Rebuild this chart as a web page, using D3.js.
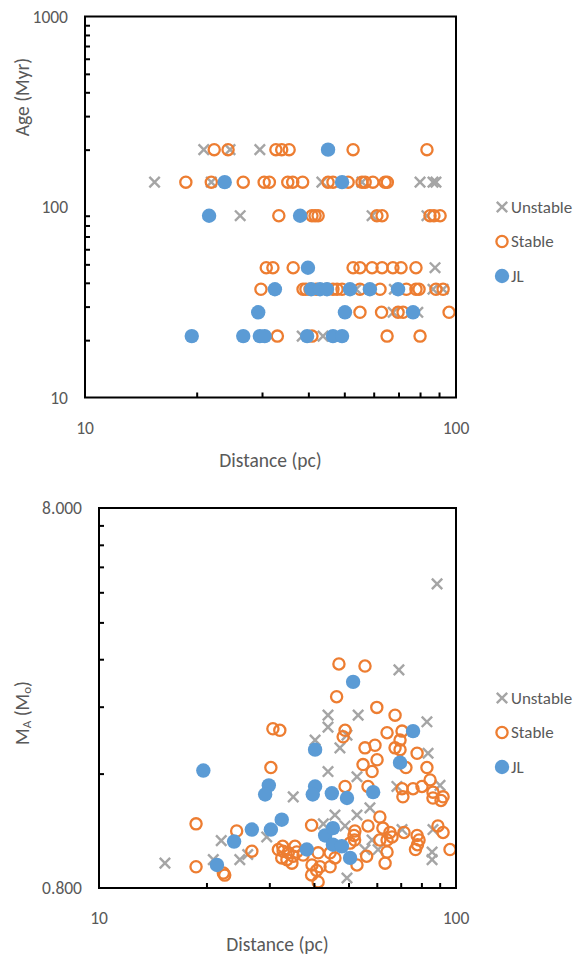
<!DOCTYPE html>
<html><head><meta charset="utf-8">
<script src="https://cdn.jsdelivr.net/npm/d3@7"></script>
<style>
html,body{margin:0;padding:0;background:#fff;}
svg{display:block;font-family:Carlito,Calibri,"Open Sans",sans-serif;}
</style></head><body>
<svg id="chart" width="574" height="958"></svg>
<script>
// ---- Panel 1: age vs distance, [distance pc, age Myr] ----
const ageUnstable = [
  [20.9,200],[24.6,200],[29.6,200],
  [15.4,135],[21.9,135],[43.5,135],[55.8,135],[80.0,135],[86.7,135],[88.3,135],
  [26.2,90],[59.4,90],[83.5,90],
  [87.8,48],
  [42.0,37],[53.8,37],[68.2,37],[86.7,37],[92.3,37],
  [67.7,28],[78.9,28],
  [38.5,21],[43.8,21]
];
const ageStable = [
  [22.3,200],[24.3,200],[32.7,200],[33.9,200],[35.5,200],[52.8,200],[83.5,200],
  [18.7,135],[21.9,135],[26.7,135],[30.4,135],[31.4,135],[35.2,135],[36.3,135],[38.6,135],
  [45.2,135],[46.6,135],[51.2,135],[55.8,135],[56.9,135],[59.7,135],[64.4,135],[65.3,135],
  [33.3,90],[40.9,90],[41.7,90],[42.5,90],[61.2,90],[63.2,90],[85.1,90],[87.2,90],[90.6,90],
  [30.8,48],[32.1,48],[36.4,48],[52.8,48],[55.1,48],[59.4,48],[63.2,48],[67.6,48],[71.1,48],[78.0,48],
  [29.8,37],[38.7,37],[39.4,37],[40.4,37],[42.0,37],[44.9,37],[46.6,37],[47.8,37],[49.3,37],
  [55.1,37],[62.4,37],[73.5,37],[78.0,37],[79.5,37],[88.3,37],[92.3,37],
  [55.1,28],[63.0,28],[69.8,28],[72.0,28],[95.8,28],
  [33.0,21],[40.9,21],[65.2,21],[80.0,21]
];
const ageJL = [
  [45.2,200],
  [23.8,135],[49.3,135],
  [21.6,90],[38.0,90],
  [39.9,48],
  [32.5,37],[40.7,37],[43.0,37],[44.9,37],[51.8,37],[58.6,37],[69.8,37],
  [29.3,28],[50.2,28],[76.6,28],
  [19.4,21],[26.7,21],[29.6,21],[30.5,21],[39.7,21],[46.6,21],[49.3,21]
];

// ---- Panel 2: primary mass vs distance, [distance pc, mass Msun] ----
const massUnstable = [
  [88.5,5.05],[69.2,3.00],[43.8,2.28],[53.2,2.28],[82.9,2.19],[43.8,2.12],[49.5,2.02],
  [40.3,1.96],[47.3,1.87],[83.5,1.81],[43.8,1.62],[52.8,1.57],[68.3,1.48],[90.2,1.49],
  [35.0,1.39],[15.3,0.93],[22.0,1.066],[29.5,1.09],[26.1,0.98],[24.8,0.95],[20.9,0.95],
  [45.8,1.245],[52.8,1.245],[57.4,1.30],[48.9,1.165],[58.2,1.07],[60.5,1.01],[55.6,1.01],
  [49.5,0.85],[85.7,0.995],[85.7,0.95],[86.2,1.14],[70.6,1.14],[42.5,1.18]
];
const massStable = [
  [47.0,3.11],[55.6,3.07],[46.3,2.55],[60.0,2.39],[67.5,2.28],[30.7,2.10],[32.1,2.08],
  [48.9,2.08],[48.3,2.00],[64.1,2.05],[70.6,2.07],[69.7,1.96],[30.3,1.66],[67.5,1.87],
  [69.7,1.85],[55.6,1.87],[59.3,1.90],[77.8,1.81],[60.1,1.74],[54.9,1.69],[72.4,1.66],
  [82.9,1.66],[58.2,1.62],[84.6,1.54],[48.9,1.48],[56.7,1.48],[70.6,1.46],[75.8,1.46],
  [80.3,1.48],[86.2,1.43],[92.0,1.39],[71.0,1.39],[86.2,1.38],[90.8,1.36],
  [18.7,1.18],[24.3,1.13],[26.8,1.00],[18.7,0.91],[22.3,0.876],[22.5,0.865],
  [31.8,1.01],[32.8,1.00],[33.9,0.99],[32.5,0.96],[33.6,0.95],[35.0,0.97],[35.8,0.995],
  [34.7,0.93],[32.7,1.03],[35.4,1.03],[37.3,0.977],
  [39.4,1.17],[52.1,1.13],[51.8,1.10],[61.2,1.23],[56.7,1.165],[62.4,1.15],[65.3,1.12],
  [64.1,1.07],[66.2,1.09],[71.5,1.12],[64.1,0.995],[63.3,0.93],[56.2,0.97],[52.8,0.92],
  [41.1,0.83],[39.4,0.866],[40.7,0.89],[39.5,0.92],[41.6,0.91],[44.4,0.91],[45.8,0.96],
  [77.8,1.10],[78.8,1.07],[78.0,1.04],[77.0,1.01],[89.0,1.165],[92.0,1.12],[96.2,1.01],
  [50.5,1.05],[41.1,0.99],[44.4,0.99],[52.0,1.07],[61.2,1.07]
];
const massJL = [
  [51.5,2.79],[75.8,2.07],[19.6,1.63],[40.3,1.85],[69.7,1.71],[29.9,1.49],[29.2,1.41],
  [40.3,1.48],[39.7,1.41],[44.9,1.42],[58.6,1.43],[49.5,1.38],[32.5,1.21],[30.3,1.14],
  [26.8,1.14],[23.9,1.06],[21.4,0.92],[43.0,1.10],[45.2,1.15],[45.2,1.04],[47.9,1.03],
  [50.5,0.96],[38.2,1.01]
];

// axis ticks and labels
const distTicks = [10, 100];
const distMinor = [20,30,40,50,60,70,80,90];
const ageTicks = [10, 100, 1000];
const ageMinor = [20,30,40,50,60,70,80,90,200,300,400,500,600,700,800,900];
const massTicks = [0.8, 8];
const massMinor = [1.6,2.4,3.2,4.0,4.8,5.6,6.4,7.2];
const seriesNames = ["Unstable", "Stable", "JL"];

const C = {gray: "#A5A5A5", orange: "#ED7D31", blue: "#5B9BD5", text: "#595959"};
const svg = d3.select("#chart");

function panel(o) {
  const g = svg.append("g");
  const x = d3.scaleLog().domain([10, 100]).range([o.left, o.right]);
  const y = d3.scaleLog().domain(o.yDomain).range([o.bottom, o.top]);

  // markers: unstable crosses, stable rings, JL discs (drawn in that order)
  const s = 5.2;
  g.append("g").selectAll("path").data(o.unstable).join("path")
    .attr("d", d => `M${x(d[0])-s},${y(d[1])-s}L${x(d[0])+s},${y(d[1])+s}M${x(d[0])-s},${y(d[1])+s}L${x(d[0])+s},${y(d[1])-s}`)
    .attr("stroke", C.gray).attr("stroke-width", 2.4).attr("fill", "none");
  g.append("g").selectAll("circle").data(o.stable).join("circle")
    .attr("cx", d => x(d[0])).attr("cy", d => y(d[1])).attr("r", 5.6)
    .attr("fill", "none").attr("stroke", C.orange).attr("stroke-width", 2.3);
  g.append("g").selectAll("circle").data(o.jl).join("circle")
    .attr("cx", d => x(d[0])).attr("cy", d => y(d[1])).attr("r", 7.2)
    .attr("fill", C.blue);

  // frame
  g.append("rect").attr("x", o.left).attr("y", o.top)
    .attr("width", o.right - o.left).attr("height", o.bottom - o.top)
    .attr("fill", "none").attr("stroke", "#000").attr("stroke-width", 2);

  // inward ticks
  const xAx = d3.axisTop(x).tickValues(distMinor).tickSize(5).tickFormat("");
  g.append("g").attr("transform", `translate(0,${o.bottom})`).call(xAx)
    .call(a => a.select(".domain").remove())
    .selectAll("line").attr("stroke", "#000").attr("stroke-width", 2);
  const yAx = d3.axisRight(y).tickValues(o.yMinor).tickSize(5).tickFormat("");
  g.append("g").attr("transform", `translate(${o.left},0)`).call(yAx)
    .call(a => a.select(".domain").remove())
    .selectAll("line").attr("stroke", "#000").attr("stroke-width", 2);

  // tick labels
  g.append("g").selectAll("text").data(distTicks).join("text")
    .attr("x", d => x(d)).attr("y", o.bottom + 30).attr("text-anchor", "middle")
    .attr("dominant-baseline", "central")
    .attr("font-size", 17.5).attr("fill", C.text).text(d => d);
  g.append("g").selectAll("text").data(o.yTicks).join("text")
    .attr("x", o.left - 17).attr("y", d => y(d)).attr("text-anchor", "end")
    .attr("dominant-baseline", "central")
    .attr("font-size", 17.5).attr("fill", C.text).text(o.yFormat);

  // axis titles
  g.append("text").attr("x", (o.left + o.right) / 2).attr("y", o.bottom + o.xTitleDy)
    .attr("text-anchor", "middle").attr("dominant-baseline", "central")
    .attr("font-size", 19.5).attr("fill", C.text).text("Distance (pc)");
  const yt = g.append("text").attr("transform", `translate(22,${o.yTitleY}) rotate(-90)`)
    .attr("text-anchor", "middle").attr("dominant-baseline", "central")
    .attr("font-size", 19.5).attr("fill", C.text);
  o.yTitle(yt);

  // legend
  const lg = g.append("g");
  seriesNames.forEach((name, i) => {
    const cy = o.legendY + i * 34.5, cx = 502;
    if (i === 0) {
      lg.append("path").attr("d", `M${cx-s},${cy-s}L${cx+s},${cy+s}M${cx-s},${cy+s}L${cx+s},${cy-s}`)
        .attr("stroke", C.gray).attr("stroke-width", 2.4);
    } else if (i === 1) {
      lg.append("circle").attr("cx", cx).attr("cy", cy).attr("r", 5.6)
        .attr("fill", "none").attr("stroke", C.orange).attr("stroke-width", 2.3);
    } else {
      lg.append("circle").attr("cx", cx).attr("cy", cy).attr("r", 7.2).attr("fill", C.blue);
    }
    lg.append("text").attr("x", 511).attr("y", cy).attr("dominant-baseline", "central")
      .attr("font-size", 17).attr("fill", C.text).text(name);
  });
}

panel({
  left: 85, right: 456, top: 16.5, bottom: 397.5,
  yDomain: [10, 1000], yTicks: ageTicks, yMinor: ageMinor, yFormat: d => d,
  unstable: ageUnstable, stable: ageStable, jl: ageJL,
  xTitleDy: 62, yTitleY: 97, legendY: 207,
  yTitle: t => t.text("Age (Myr)")
});

panel({
  left: 99, right: 456, top: 508, bottom: 888,
  yDomain: [0.8, 8], yTicks: massTicks, yMinor: massMinor, yFormat: d => d.toFixed(3),
  unstable: massUnstable, stable: massStable, jl: massJL,
  xTitleDy: 56, yTitleY: 713, legendY: 698,
  yTitle: t => {
    t.append("tspan").text("M");
    t.append("tspan").attr("font-size", 13).attr("dy", 4).text("A");
    t.append("tspan").attr("dy", -4).text(" (M");
    t.append("tspan").attr("font-size", 13).attr("dy", 4).text("o");
    t.append("tspan").attr("dy", -4).text(")");
  }
});
</script>
</body></html>
